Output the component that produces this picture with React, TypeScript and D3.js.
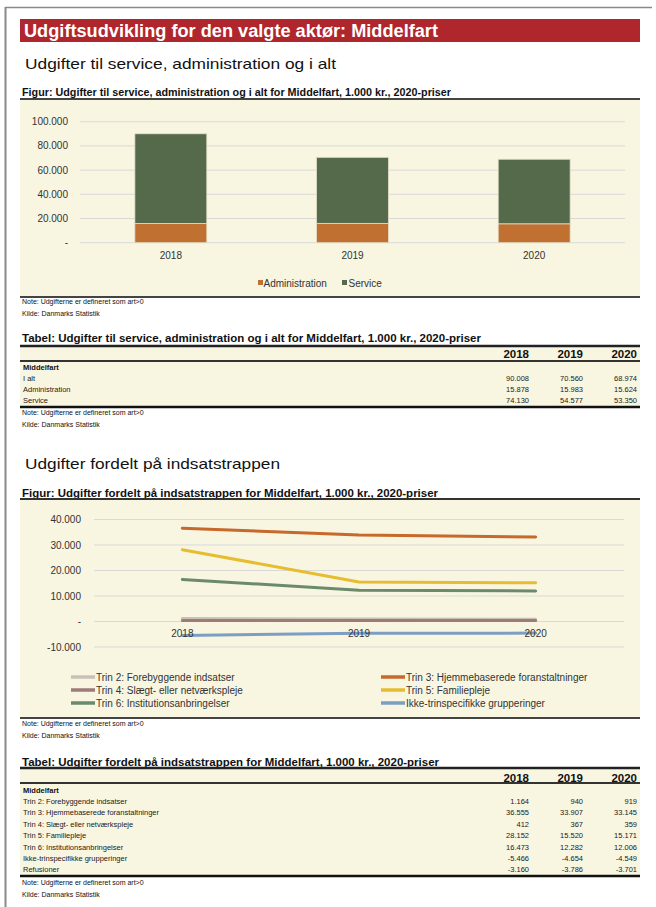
import React from 'react';
import * as d3 from 'd3';

const years = ['2018', '2019', '2020'];
const adminValues = [15878, 15983, 15624];
const serviceValues = [74130, 54577, 53350];
const totalValues = [90008, 70560, 68974];
const barTicks = [0, 20000, 40000, 60000, 80000, 100000];

const trinNames = [
  'Trin 2: Forebyggende indsatser',
  'Trin 3: Hjemmebaserede foranstaltninger',
  'Trin 4: Slægt- eller netværkspleje',
  'Trin 5: Familiepleje',
  'Trin 6: Institutionsanbringelser',
  'Ikke-trinspecifikke grupperinger',
];
const trin2 = [1164, 940, 919];
const trin3 = [36555, 33907, 33145];
const trin4 = [412, 367, 359];
const trin5 = [28152, 15520, 15171];
const trin6 = [16473, 12282, 12006];
const ikke = [-5466, -4654, -4549];
const refusioner = [-3160, -3786, -3701];
const lineTicks = [-10000, 0, 10000, 20000, 30000, 40000];
const trinColors = ['#c9c0b8', '#c7682c', '#9c7b79', '#e6bd30', '#6a8a6b', '#7c9ec3'];

const F = "'Liberation Sans', Arial, sans-serif";
const FN = "'Liberation Sans Narrow', 'Liberation Sans', Arial, sans-serif";
const BEIGE = '#f8f6e1';
const GRID = '#d9d9d9';

const loc = d3.formatLocale({ decimal: ',', thousands: '.', grouping: [3], currency: ['', ''], minus: '-' });
const fmt = loc.format(',d');
const tickFmt = (v: number) => (v === 0 ? '-' : fmt(v));

function NoteKilde({ y }: { y: number }) {
  return (
    <g fontFamily={F} fontSize={7} fill="#111">
      <text x={22} y={y}>Note: Udgifterne er defineret som art&gt;0</text>
      <text x={22} y={y + 12}>Kilde: Danmarks Statistik</text>
    </g>
  );
}

function Title({ y, text, len, size }: { y: number; text: string; len: number; size: number }) {
  return (
    <text x={22} y={y} fontFamily={FN} fontWeight="bold" fontSize={size} fill="#111" textLength={len} lengthAdjust="spacingAndGlyphs">
      {text}
    </text>
  );
}

function Table({ top, rows, colX, rowYs, headerY, underY, bottom }: any) {
  return (
    <g>
      <rect x={20} y={top} width={620} height={bottom - top} fill={BEIGE} />
      <line x1={20} x2={640} y1={top} y2={top} stroke="#222" strokeWidth={2.5} />
      <line x1={20} x2={640} y1={underY} y2={underY} stroke="#333" strokeWidth={2} />
      <line x1={20} x2={640} y1={bottom} y2={bottom} stroke="#111" strokeWidth={2.5} />
      {years.map((yr, i) => (
        <text key={yr} x={colX[i]} y={headerY} textAnchor="end" fontFamily={F} fontWeight="bold" fontSize={11.5} fill="#111">
          {yr}
        </text>
      ))}
      <text x={23} y={rowYs[0]} fontFamily={F} fontWeight="bold" fontSize={7.5} fill="#111">Middelfart</text>
      {rows.map((r: any, ri: number) => (
        <g key={r.label} fontFamily={F} fontSize={7.5} fill="#1a1a1a">
          <text x={23} y={rowYs[ri + 1]}>{r.label}</text>
          {r.values.map((v: number, i: number) => (
            <text key={i} x={colX[i]} y={rowYs[ri + 1]} textAnchor="end">{fmt(v)}</text>
          ))}
        </g>
      ))}
    </g>
  );
}

export default function App() {
  // Bar chart scales
  const xb = d3.scaleBand<string>().domain(years).range([80, 625]).paddingInner(0.604).paddingOuter(0.302);
  const yb = d3.scaleLinear().domain([0, 100000]).range([242.7, 121.7]);
  const stack = d3.stack<any>().keys(['admin', 'service'])(
    years.map((y, i) => ({ year: y, admin: adminValues[i], service: serviceValues[i] }))
  );
  const barColors = ['#c07030', '#55694b'];

  // Line chart scales
  const xl = d3.scalePoint<string>().domain(years).range([94, 624]).padding(0.5);
  const yl = d3.scaleLinear().domain([-10000, 40000]).range([647, 519.5]);
  const series = [trin2, trin3, trin4, trin5, trin6, ikke];
  const lineGen = d3.line<number>().x((_, i) => xl(years[i]) as number).y((d) => yl(d));

  const colX = [529, 583, 637];

  return (
    <svg width={656} height={907} style={{ position: 'absolute', left: 0, top: 0, background: '#fff' }}>
      {/* page border */}
      <line x1={5} x2={652} y1={7.5} y2={7.5} stroke="#8a8a8a" strokeWidth={1.5} />
      <line x1={5.5} x2={5.5} y1={7} y2={907} stroke="#8a8a8a" strokeWidth={2} />

      {/* red header */}
      <rect x={20} y={19} width={620} height={23} fill="#b0262d" />
      <text x={24} y={36.5} fontFamily={F} fontWeight="bold" fontSize={17.5} fill="#fff" textLength={414} lengthAdjust="spacingAndGlyphs">
        Udgiftsudvikling for den valgte aktør: Middelfart
      </text>

      <text x={25} y={69} fontFamily={F} fontSize={15} fill="#111" textLength={311} lengthAdjust="spacingAndGlyphs">
        Udgifter til service, administration og i alt
      </text>

      {/* Figure 1 */}
      <Title y={96} text="Figur: Udgifter til service, administration og i alt for Middelfart, 1.000 kr., 2020-priser" len={429} size={10.5} />
      <rect x={20} y={99} width={620} height={198} fill={BEIGE} />
      <line x1={20} x2={640} y1={99} y2={99} stroke="#444" strokeWidth={2} />
      <line x1={20} x2={640} y1={297} y2={297} stroke="#444" strokeWidth={2} />
      {barTicks.map((t) => (
        <g key={t}>
          <line x1={80} x2={625} y1={yb(t)} y2={yb(t)} stroke={GRID} strokeWidth={1} />
          <text x={68} y={yb(t) + 3.5} textAnchor="end" fontFamily={F} fontSize={10} fill="#333">
            {tickFmt(t)}
          </text>
        </g>
      ))}
      {stack.map((s, si) => (
        <g key={s.key}>
          {s.map((d, i) => (
            <rect
              key={i}
              x={xb(years[i])}
              y={yb(d[1])}
              width={xb.bandwidth()}
              height={yb(d[0]) - yb(d[1])}
              fill={barColors[si]}
              stroke="#e3dfc8"
              strokeWidth={0.8}
            />
          ))}
        </g>
      ))}
      {years.map((yr) => (
        <text key={yr} x={(xb(yr) as number) + xb.bandwidth() / 2} y={259} textAnchor="middle" fontFamily={F} fontSize={10} fill="#333">
          {yr}
        </text>
      ))}
      <rect x={258} y={280} width={5} height={5} fill={barColors[0]} />
      <text x={263.5} y={286.5} fontFamily={F} fontSize={10} fill="#333">Administration</text>
      <rect x={342} y={280} width={5} height={5} fill={barColors[1]} />
      <text x={348.5} y={286.5} fontFamily={F} fontSize={10} fill="#333">Service</text>
      <NoteKilde y={304} />

      {/* Table 1 */}
      <Title y={342} text="Tabel: Udgifter til service, administration og i alt for Middelfart, 1.000 kr., 2020-priser" len={459} size={11.5} />
      <Table
        top={346}
        bottom={407}
        underY={361}
        headerY={357.5}
        colX={colX}
        rowYs={[369.5, 380.5, 392, 403]}
        rows={[
          { label: 'I alt', values: totalValues },
          { label: 'Administration', values: adminValues },
          { label: 'Service', values: serviceValues },
        ]}
      />
      <NoteKilde y={415} />

      {/* Section 2 */}
      <text x={25} y={468.5} fontFamily={F} fontSize={15} fill="#111" textLength={255} lengthAdjust="spacingAndGlyphs">
        Udgifter fordelt på indsatstrappen
      </text>
      <Title y={497} text="Figur: Udgifter fordelt på indsatstrappen for Middelfart, 1.000 kr., 2020-priser" len={416} size={11} />
      <rect x={20} y={499} width={620} height={219} fill={BEIGE} />
      <line x1={20} x2={640} y1={499} y2={499} stroke="#333" strokeWidth={2} />
      <line x1={20} x2={640} y1={718} y2={718} stroke="#444" strokeWidth={2} />
      {lineTicks.map((t) => (
        <g key={t}>
          <line x1={94} x2={624} y1={yl(t)} y2={yl(t)} stroke={GRID} strokeWidth={1} />
          <text x={81} y={yl(t) + 3.5} textAnchor="end" fontFamily={F} fontSize={10} fill="#333">
            {tickFmt(t)}
          </text>
        </g>
      ))}
      {series.map((s, i) => (
        <path key={i} d={lineGen(s) as string} fill="none" stroke={trinColors[i]} strokeWidth={3} strokeLinecap="round" strokeLinejoin="round" />
      ))}
      {years.map((yr) => (
        <text key={yr} x={xl(yr) as number} y={636.5} textAnchor="middle" fontFamily={F} fontSize={10} fill="#333">
          {yr}
        </text>
      ))}
      {trinNames.map((name, i) => {
        const col = i % 2;
        const row = Math.floor(i / 2);
        const x0 = col === 0 ? 71 : 381;
        const y0 = 677 + row * 13;
        return (
          <g key={name}>
            <line x1={x0} x2={x0 + 24} y1={y0} y2={y0} stroke={trinColors[i]} strokeWidth={3.5} />
            <text x={x0 + 25} y={y0 + 3.5} fontFamily={F} fontSize={10} fill="#333">{name}</text>
          </g>
        );
      })}
      <NoteKilde y={726} />

      {/* Table 2 */}
      <Title y={766} text="Tabel: Udgifter fordelt på indsatstrappen for Middelfart, 1.000 kr., 2020-priser" len={417} size={11} />
      <Table
        top={768}
        bottom={876}
        underY={783}
        headerY={781.5}
        colX={colX}
        rowYs={[792.5, 803.5, 815, 826.5, 838, 849.5, 861, 872]}
        rows={[
          { label: trinNames[0], values: trin2 },
          { label: trinNames[1], values: trin3 },
          { label: trinNames[2], values: trin4 },
          { label: trinNames[3], values: trin5 },
          { label: trinNames[4], values: trin6 },
          { label: trinNames[5], values: ikke },
          { label: 'Refusioner', values: refusioner },
        ]}
      />
      <NoteKilde y={885} />
    </svg>
  );
}
